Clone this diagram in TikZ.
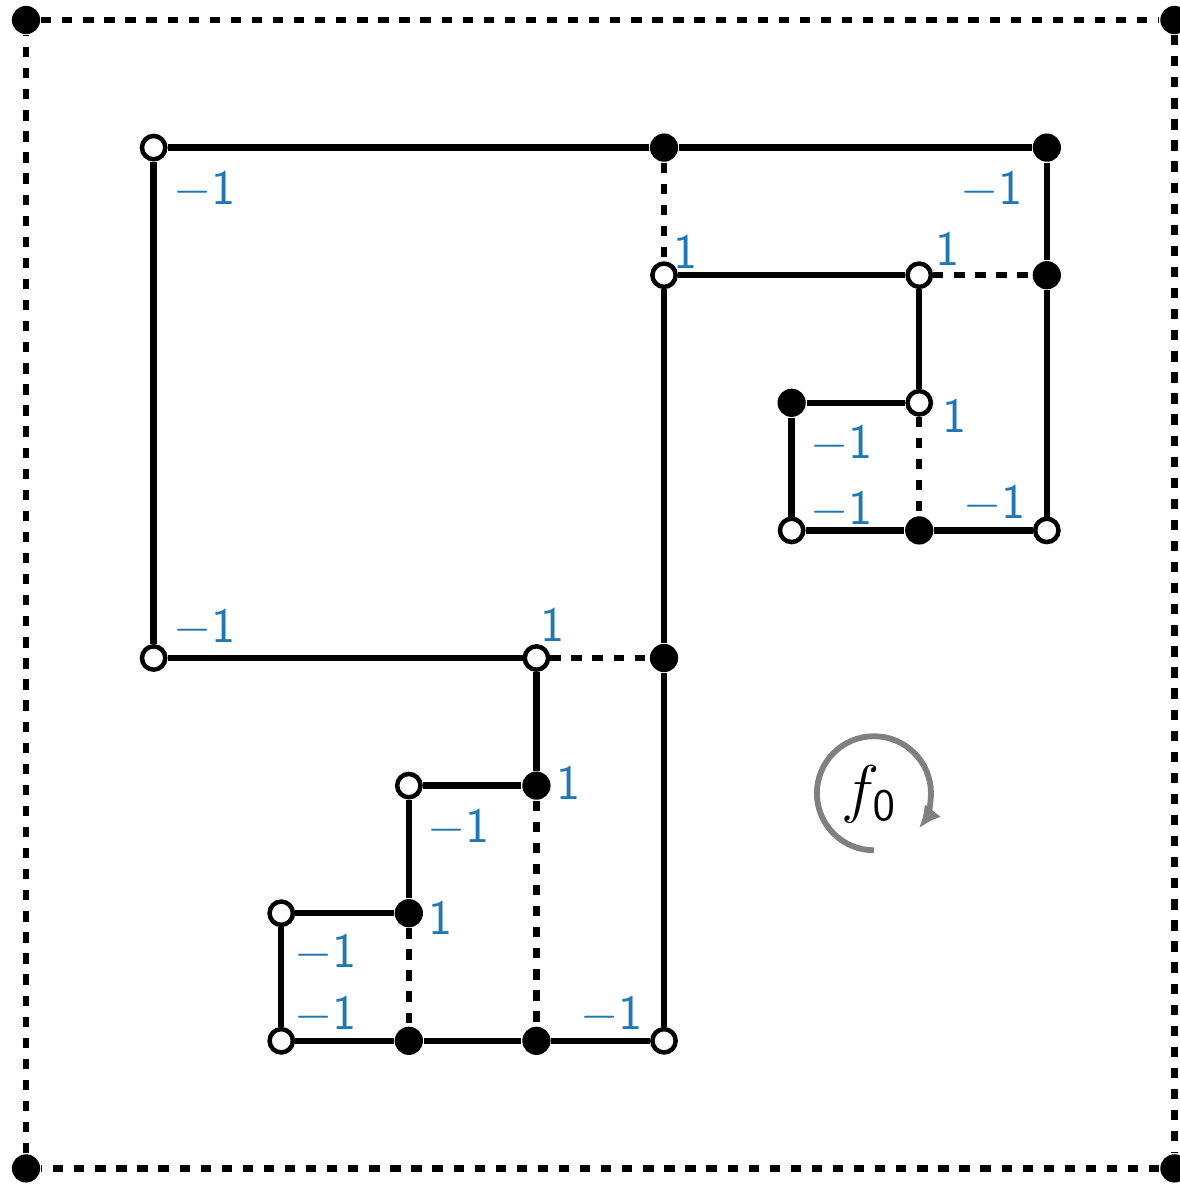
\documentclass[tikz,border=0pt]{standalone}
\usetikzlibrary{arrows.meta}
\definecolor{wt}{HTML}{1F77B4}
\definecolor{rotc}{HTML}{808080}
\tikzset{
  wdot/.style={circle, draw=black, fill=white, line width=1pt, minimum size=5.2pt, inner sep=0pt},
  bdot/.style={circle, fill=black, minimum size=6.3pt, inner sep=0pt},
  ebar/.style={line width=1.4pt},
  dline/.style={line width=1.4pt, dash pattern=on 2.3pt off 2.4pt},
  wlab/.style={text=wt, font=\sffamily\fontsize{11}{13}\selectfont, inner sep=0pt},
  rotarr/.style={-{Latex[length=5pt,width=4.6pt]}, line width=1.3pt, color=rotc},
}
\begin{document}
\begin{tikzpicture}
  \useasboundingbox (-0.204,-0.13) rectangle (9.036,9.157);
  % vertices
  \foreach \x/\y in {0/9,9/9,0/0,9/0,5/8,8/8,8/7,6/6,7/5,5/4,4/3,3/2,3/1,4/1}
    \node[bdot] (p\x\y) at (\x,\y) {};
  \foreach \x/\y in {1/8,5/7,7/7,7/6,6/5,8/5,1/4,4/4,3/3,2/2,2/1,5/1}
    \node[wdot] (p\x\y) at (\x,\y) {};
  % tree edges
  \foreach \a/\b in {p18/p58,p58/p88,p18/p14,p88/p87,p87/p85,p57/p77,p77/p76,
      p66/p76,p66/p65,p65/p75,p75/p85,p57/p54,p54/p51,p14/p44,p44/p43,p33/p43,
      p33/p32,p22/p32,p22/p21,p21/p31,p31/p41,p41/p51}
    \draw[ebar] (\a) -- (\b);
  % dual edges
  \foreach \a/\b in {p58/p57,p77/p87,p76/p75,p44/p54,p43/p41,p32/p31,
      p09/p99,p99/p90,p90/p00,p00/p09}
    \draw[dline] (\a) -- (\b);
  % weights
  \foreach \v/\dx/\dy/\t in {p18/0.40/-0.33/{$-$1},p88/-0.43/-0.33/{$-$1},
      p57/0.17/0.18/1,p77/0.22/0.21/1,p76/0.28/-0.10/1,p66/0.39/-0.32/{$-$1},
      p65/0.39/0.16/{$-$1},p85/-0.41/0.21/{$-$1},p14/0.40/0.235/{$-$1},
      p44/0.13/0.26/1,p43/0.25/0.02/1,p33/0.39/-0.33/{$-$1},p32/0.25/-0.04/1,
      p22/0.35/-0.31/{$-$1},p21/0.35/0.20/{$-$1},p51/-0.41/0.20/{$-$1}}
    \node[wlab] (l\v) at ([shift={(\dx,\dy)}]\v) {\t};
  % face
  \coordinate (c0) at (6.645,2.94);
  \node[font=\fontsize{14}{16}\selectfont, inner sep=0pt] (f0) at (6.61,2.93) {$f_{\mathsf{0}}$};
  \draw[rotarr] ([shift={(270:0.447)}]c0) arc[start angle=270, end angle=-38, radius=0.447];
\end{tikzpicture}
\end{document}
